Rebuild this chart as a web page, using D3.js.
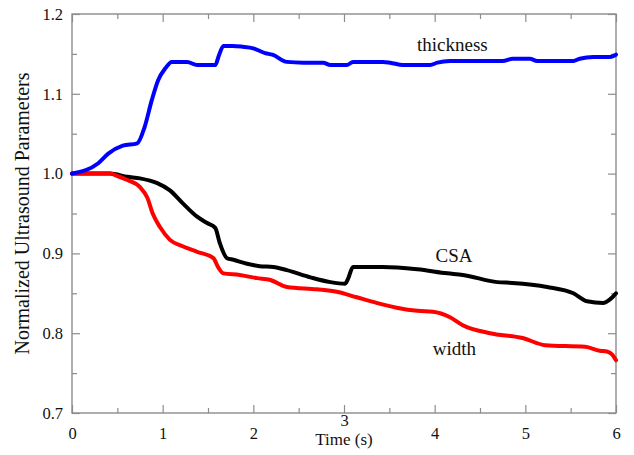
<!DOCTYPE html>
<html>
<head>
<meta charset="utf-8">
<script src="https://cdn.jsdelivr.net/npm/d3@7"></script>
<style>
  body { margin: 0; background: #fff; }
  text { font-family: "Liberation Serif", "Times New Roman", serif; fill: #111; }
</style>
</head>
<body>
<div id="chart"></div>
<script>
// values
const timeThickness = [0, 0.29, 0.40, 0.56, 0.72, 0.80, 0.88, 0.95, 1.03, 1.10, 1.27, 1.38, 1.58, 1.62, 1.67, 1.77, 1.88, 2.00, 2.13, 2.21, 2.37, 2.55, 2.77, 2.85, 3.03, 3.10, 3.43, 3.51, 3.65, 3.95, 4.03, 4.17, 4.75, 4.86, 5.05, 5.13, 5.53, 5.60, 5.75, 5.93, 6.00];
const thickness = [1.0, 1.013, 1.025, 1.035, 1.038, 1.058, 1.092, 1.117, 1.132, 1.140, 1.140, 1.136, 1.136, 1.148, 1.160, 1.160, 1.159, 1.157, 1.151, 1.149, 1.140, 1.139, 1.139, 1.136, 1.136, 1.140, 1.140, 1.139, 1.136, 1.136, 1.139, 1.141, 1.141, 1.144, 1.144, 1.141, 1.141, 1.144, 1.146, 1.146, 1.149];

const timeCSA = [0, 0.42, 0.61, 0.75, 0.94, 1.08, 1.22, 1.38, 1.49, 1.58, 1.63, 1.71, 1.78, 1.93, 2.07, 2.22, 2.37, 2.63, 2.85, 3.01, 3.04, 3.10, 3.43, 3.81, 4.14, 4.31, 4.69, 4.86, 5.24, 5.53, 5.68, 5.86, 5.96, 6.00];
const csa = [1.0, 1.0, 0.996, 0.994, 0.988, 0.979, 0.963, 0.946, 0.938, 0.932, 0.913, 0.894, 0.892, 0.887, 0.884, 0.883, 0.879, 0.870, 0.864, 0.862, 0.867, 0.883, 0.883, 0.880, 0.875, 0.873, 0.864, 0.863, 0.858, 0.850, 0.840, 0.838, 0.845, 0.850];

const timeWidth = [0, 0.42, 0.50, 0.61, 0.75, 0.83, 0.89, 0.97, 1.08, 1.22, 1.38, 1.56, 1.61, 1.67, 1.85, 2.04, 2.18, 2.37, 2.70, 2.92, 3.14, 3.36, 3.58, 3.81, 3.98, 4.17, 4.31, 4.61, 4.97, 5.22, 5.66, 5.82, 5.90, 5.96, 6.00];
const width = [1.0, 1.0, 0.997, 0.992, 0.983, 0.970, 0.950, 0.933, 0.917, 0.909, 0.902, 0.894, 0.883, 0.875, 0.873, 0.869, 0.867, 0.858, 0.855, 0.852, 0.845, 0.838, 0.832, 0.828, 0.827, 0.820, 0.810, 0.800, 0.794, 0.785, 0.783, 0.778, 0.777, 0.773, 0.766];

const xTicks = [0, 1, 2, 3, 4, 5, 6];
const xMinor = [0.5, 1.5, 2.5, 3.5, 4.5, 5.5];
const yTicks = [0.7, 0.8, 0.9, 1.0, 1.1, 1.2];
const yMinor = [0.75, 0.85, 0.95, 1.05, 1.15];
const yTickLabels = ["0.7", "0.8", "0.9", "1.0", "1.1", "1.2"];

const W = 634, H = 455;
const margin = {left: 72, right: 18, top: 14, bottom: 42};
const iw = W - margin.left - margin.right;
const ih = H - margin.top - margin.bottom;

const svg = d3.select("#chart").append("svg")
    .attr("width", W)
    .attr("height", H);

const g = svg.append("g")
    .attr("transform", "translate(" + margin.left + "," + margin.top + ")");

const x = d3.scaleLinear().domain([0, 6]).range([0, iw]);
const y = d3.scaleLinear().domain([0.7, 1.2]).range([ih, 0]);

const axisColor = "#8c8c8c";

function styleAxis(sel) {
    sel.select(".domain").remove();
    sel.selectAll(".tick line").attr("stroke", axisColor).attr("stroke-width", 1.2);
    sel.selectAll(".tick text").style("font-size", "16.5px").attr("fill", "#111");
}

// major + minor ticks on all four sides, pointing inward
const xAxisG = g.append("g").attr("transform", "translate(0," + ih + ")")
    .call(d3.axisBottom(x).tickValues(xTicks).tickSize(-8).tickPadding(14).tickFormat(d3.format("d")))
    .call(styleAxis);
// the "3" sits higher in the original, just above the axis title
xAxisG.selectAll(".tick text").filter(d => d === 3).attr("y", 1);

g.append("g").attr("transform", "translate(0," + ih + ")")
    .call(d3.axisBottom(x).tickValues(xMinor).tickSize(-5).tickFormat(""))
    .call(styleAxis);
g.append("g")
    .call(d3.axisTop(x).tickValues(xTicks).tickSize(-8).tickFormat(""))
    .call(styleAxis);
g.append("g")
    .call(d3.axisTop(x).tickValues(xMinor).tickSize(-5).tickFormat(""))
    .call(styleAxis);

g.append("g")
    .call(d3.axisLeft(y).tickValues(yTicks).tickSize(-8).tickPadding(9).tickFormat((d, i) => yTickLabels[i]))
    .call(styleAxis);
g.append("g")
    .call(d3.axisLeft(y).tickValues(yMinor).tickSize(-5).tickFormat(""))
    .call(styleAxis);
g.append("g").attr("transform", "translate(" + iw + ",0)")
    .call(d3.axisRight(y).tickValues(yTicks).tickSize(-8).tickFormat(""))
    .call(styleAxis);
g.append("g").attr("transform", "translate(" + iw + ",0)")
    .call(d3.axisRight(y).tickValues(yMinor).tickSize(-5).tickFormat(""))
    .call(styleAxis);

// frame
g.append("rect")
    .attr("width", iw)
    .attr("height", ih)
    .attr("fill", "none")
    .attr("stroke", axisColor)
    .attr("stroke-width", 1.4);

const line = d3.line()
    .x(d => x(d[0]))
    .y(d => y(d[1]))
    .curve(d3.curveMonotoneX);

const series = [
    {t: timeCSA, v: csa, color: "#000000"},
    {t: timeWidth, v: width, color: "#ff0000"},
    {t: timeThickness, v: thickness, color: "#0000ff"}
];

series.forEach(function(s) {
    g.append("path")
        .datum(d3.zip(s.t, s.v))
        .attr("fill", "none")
        .attr("stroke", s.color)
        .attr("stroke-width", 4)
        .attr("stroke-linejoin", "round")
        .attr("stroke-linecap", "round")
        .attr("d", line);
});

// series labels
const labels = [
    ["thickness", 3.805, 1.154],
    ["CSA", 4.01, 0.8895],
    ["width", 3.98, 0.7728]
];
g.selectAll(".series-label")
    .data(labels)
    .enter().append("text")
    .attr("class", "series-label")
    .attr("x", d => x(d[1]))
    .attr("y", d => y(d[2]))
    .style("font-size", "19px")
    .text(d => d[0]);

// axis titles
svg.append("text")
    .attr("x", margin.left + x(3))
    .attr("y", 445)
    .attr("text-anchor", "middle")
    .style("font-size", "17px")
    .text("Time (s)");

svg.append("text")
    .attr("transform", "translate(29," + (margin.top + y(0.95)) + ") rotate(-90)")
    .attr("text-anchor", "middle")
    .style("font-size", "20px")
    .text("Normalized Ultrasound Parameters");
</script>
</body>
</html>
